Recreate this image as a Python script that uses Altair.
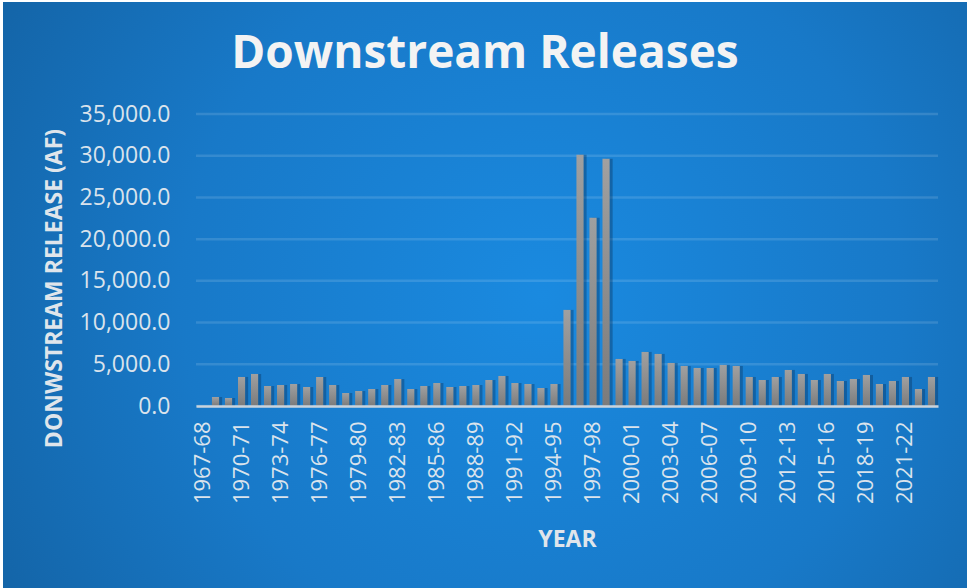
import altair as alt
import pandas as pd

years = [
    "1967-68", "1968-69", "1969-70", "1970-71", "1971-72", "1972-73", "1973-74", "1974-75",
    "1975-76", "1976-77", "1977-78", "1978-79", "1979-80", "1980-81", "1981-82", "1982-83",
    "1983-84", "1984-85", "1985-86", "1986-87", "1987-88", "1988-89", "1989-90", "1990-91",
    "1991-92", "1992-93", "1993-94", "1994-95", "1995-96", "1996-97", "1997-98", "1998-99",
    "1999-00", "2000-01", "2001-02", "2002-03", "2003-04", "2004-05", "2005-06", "2006-07",
    "2007-08", "2008-09", "2009-10", "2010-11", "2011-12", "2012-13", "2013-14", "2014-15",
    "2015-16", "2016-17", "2017-18", "2018-19", "2019-20", "2020-21", "2021-22", "2022-23",
    "2023-24",
]
releases = [
    0, 1080, 960, 3480, 3840, 2400, 2520, 2640,
    2280, 3480, 2520, 1560, 1800, 2040, 2520, 3240,
    2040, 2400, 2760, 2280, 2400, 2520, 3120, 3600,
    2760, 2640, 2160, 2640, 11520, 30120, 22560, 29640,
    5640, 5400, 6480, 6240, 5160, 4800, 4560, 4560,
    4920, 4800, 3480, 3120, 3480, 4320, 3840, 3120,
    3840, 3000, 3240, 3720, 2640, 3000, 3480, 2040,
    3480,
]
label_years = years[::3]
y_ticks = [0, 5000, 10000, 15000, 20000, 25000, 30000, 35000]
chart_title = "Downstream Releases"
x_title = "YEAR"
y_title = "DONWSTREAM RELEASE (AF)"

W, H = 742, 292
PL, PT, PR, PB = 196, 114, 29, 182
FONT = "Open Sans"
LABEL_COLOR = "#dae3ec"
TITLE_COLOR = "#dfe5eb"

df = pd.DataFrame({"year": years, "release": releases})
grid_df = pd.DataFrame({"release": y_ticks})
one = pd.DataFrame({"t": [chart_title]})

y_scale = alt.Scale(domain=[0, 35000], nice=False)
x_scale = alt.Scale(paddingInner=0.45, paddingOuter=0.225)

x_axis = alt.Axis(
    values=label_years, labelAngle=-90, labelFont=FONT, labelFontSize=22,
    labelColor=LABEL_COLOR, labelPadding=15, ticks=False,
    domain=True, domainColor="#c9d3dc", domainWidth=2.5,
    title=x_title, titleFont=FONT, titleFontSize=23, titleFontWeight="bold",
    titleColor=TITLE_COLOR, titleBaseline="alphabetic", titleY=140,
    zindex=1, grid=False,
)
y_axis = alt.Axis(
    values=y_ticks, format=",.1f", labelFont=FONT, labelFontSize=23,
    labelColor=LABEL_COLOR, labelPadding=26, ticks=False, domain=False,
    grid=False, title=y_title, titleFont=FONT, titleFontSize=23,
    titleFontWeight="bold", titleColor=TITLE_COLOR, titleX=-130, titleY=174,
    titleBaseline="bottom", zindex=1,
)

bg = alt.Chart(one).mark_rect(
    color={
        "gradient": "radial",
        "x1": 0.56, "y1": 0.5, "x2": 0.56, "y2": 0.5, "r1": 0, "r2": 0.75,
        "stops": [
            {"offset": 0, "color": "#1a8ae0"},
            {"offset": 0.5, "color": "#1879c8"},
            {"offset": 1, "color": "#125c9a"},
        ],
    }
).encode(
    x=alt.value(-PL + 3), x2=alt.value(W + PR),
    y=alt.value(-PT + 2), y2=alt.value(H + PB),
)

grid = alt.Chart(grid_df).mark_rule(color="white", opacity=0.13, strokeWidth=2.5).encode(
    y=alt.Y("release:Q", scale=y_scale, axis=y_axis),
    x=alt.value(0), x2=alt.value(W),
)

shadow = alt.Chart(df).mark_bar(color="#0a3560", opacity=0.4, xOffset=3).encode(
    x=alt.X("year:N", sort=years, scale=x_scale, axis=x_axis),
    y=alt.Y("release:Q", scale=y_scale, axis=y_axis),
)

bars = alt.Chart(df).mark_bar(
    color={
        "gradient": "linear", "x1": 0, "y1": 0, "x2": 0, "y2": 1,
        "stops": [
            {"offset": 0, "color": "#a0a0a0"},
            {"offset": 1, "color": "#7b7b7b"},
        ],
    }
).encode(
    x=alt.X("year:N", sort=years, scale=x_scale, axis=x_axis),
    y=alt.Y("release:Q", scale=y_scale, axis=y_axis),
)

title = alt.Chart(one).mark_text(
    font=FONT, fontSize=46, fontWeight="bold", color="#f3f3f3",
    align="center", baseline="alphabetic",
).encode(text="t:N", x=alt.value(485 - PL), y=alt.value(68 - PT))

chart = alt.layer(bg, grid, shadow, bars, title).properties(
    width=W, height=H,
    padding={"left": PL, "top": PT, "right": PR, "bottom": PB},
    autosize=alt.AutoSizeParams(type="none"),
    background="white",
).configure_view(stroke=None)

chart.save("out.html", embed_options={"renderer": "svg", "actions": False})
